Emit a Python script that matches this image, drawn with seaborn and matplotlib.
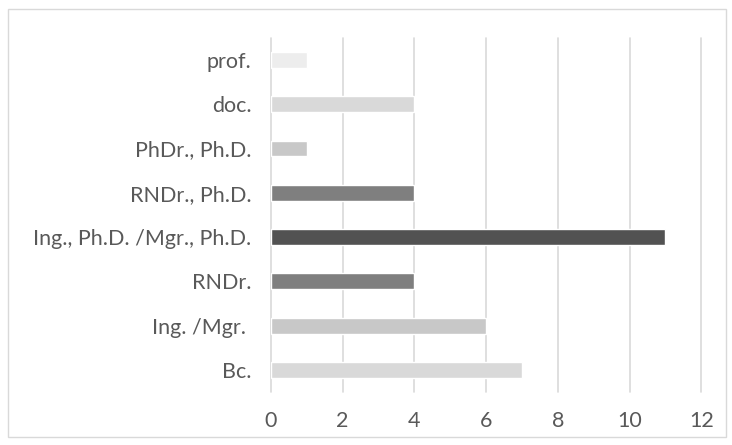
import matplotlib
matplotlib.use("Agg")
import matplotlib.pyplot as plt
import seaborn as sns
import pandas as pd

# data, top to bottom as in the chart
categories = ["prof.", "doc.", "PhDr., Ph.D.", "RNDr., Ph.D.",
              "Ing., Ph.D. /Mgr., Ph.D.", "RNDr.", "Ing. /Mgr. ", "Bc."]
counts = [1, 4, 1, 4, 11, 4, 6, 7]
bar_colors = ["#ededed", "#d9d9d9", "#c8c8c8", "#7f7f7f",
              "#525252", "#7f7f7f", "#c8c8c8", "#d9d9d9"]
x_ticks = [0, 2, 4, 6, 8, 10, 12]

sns.set_style("white")
plt.rcParams['font.family'] = ["Lato", "DejaVu Sans"]

df = pd.DataFrame({"title": categories, "count": counts})

fig = plt.figure(figsize=(7.32, 4.45), dpi=100)
ax = fig.add_axes([0.370, 0.119, 0.588, 0.796])

sns.barplot(data=df, x="count", y="title", hue="title", order=categories,
            palette=dict(zip(categories, bar_colors)), legend=False,
            width=0.36, saturation=1, ax=ax, zorder=3)

ax.set_xlim(0, 12)
ax.set_ylim(len(categories) - 0.5, -0.5)
ax.set_xticks(x_ticks)
ax.xaxis.grid(True, color="#d9d9d9", linewidth=1.2, zorder=0)
for gl in ax.get_xgridlines():
    gl.set_clip_on(False)
ax.set_axisbelow(True)
for s in ax.spines.values():
    s.set_visible(False)
ax.set_xlabel("")
ax.set_ylabel("")
ax.tick_params(axis="both", length=0, labelsize=15.5, colors="#595959")
ax.tick_params(axis="y", pad=14)
ax.tick_params(axis="x", pad=14)

# outer chart frame
fig.patches.append(plt.Rectangle((8 / 732, 8 / 445), 718 / 732, 428 / 445,
                                 transform=fig.transFigure, fill=False,
                                 edgecolor="#d9d9d9", linewidth=1))

fig.savefig("out.png", dpi=100)
